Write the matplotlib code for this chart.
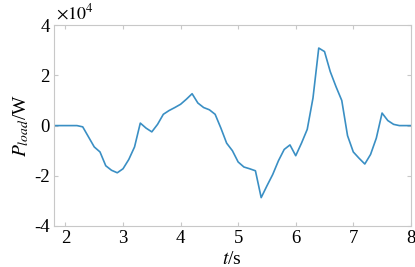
import matplotlib.pyplot as plt

# load power curve, values in units of 10^4 W
t = [1.8, 1.9, 2.0, 2.1, 2.2, 2.3, 2.4, 2.5, 2.6, 2.7, 2.8, 2.9,
     3.0, 3.1, 3.2, 3.3, 3.4, 3.5, 3.6, 3.7, 3.8, 3.9,
     4.0, 4.1, 4.2, 4.3, 4.4, 4.5, 4.6, 4.7, 4.8, 4.9,
     5.0, 5.1, 5.2, 5.3, 5.4, 5.5, 5.6, 5.7, 5.8, 5.9,
     6.0, 6.1, 6.2, 6.3, 6.4, 6.5, 6.6, 6.7, 6.8, 6.9,
     7.0, 7.1, 7.2, 7.3, 7.4, 7.5, 7.6, 7.7, 7.8, 7.9, 8.0]
p_load = [0, 0, 0, 0, 0, -0.05, -0.45, -0.85, -1.05, -1.6, -1.78, -1.88,
          -1.72, -1.35, -0.85, 0.1, -0.1, -0.25, 0.05, 0.45, 0.6, 0.72,
          0.85, 1.05, 1.27, 0.9, 0.72, 0.63, 0.45, -0.1, -0.7, -1.0,
          -1.45, -1.65, -1.72, -1.8, -2.87, -2.4, -1.95, -1.4, -0.95, -0.77,
          -1.2, -0.7, -0.15, 1.1, 3.09, 2.95, 2.15, 1.55, 1.0, -0.4,
          -1.05, -1.3, -1.53, -1.15, -0.5, 0.5, 0.2, 0.05, 0.0, 0.0, 0.0]

plt.rcParams['font.family'] = 'Liberation Serif'
plt.rcParams['mathtext.fontset'] = 'stix'

fig = plt.figure(figsize=(4.15, 2.67), dpi=100)
ax = fig.add_axes([0.130, 0.1536, 0.860, 0.752])
ax.plot(t, p_load, color='#3a8fc4', lw=1.2)

ax.set_xlim(1.8, 8)
ax.set_ylim(-4, 4)
ax.set_xticks([2, 3, 4, 5, 6, 7, 8])
ax.set_yticks([-4, -2, 0, 2, 4])
ax.set_yticklabels(['-4', '-2', '0', '2', '4'])

for s in ax.spines.values():
    s.set_color('#c8c8c8')
    s.set_linewidth(0.8)
ax.tick_params(direction='in', top=True, right=True, color='#c8c8c8',
               length=3, labelsize=13.5, pad=3)

ax.set_xlabel(r'$t$/s', fontsize=14, labelpad=3)
ax.set_ylabel(r'$P_{load}$/W', fontsize=14, labelpad=2)
ax.text(0.005, 1.01, r'$\times10^4$', transform=ax.transAxes, fontsize=13,
        ha='left', va='bottom')

plt.savefig('out.png', dpi=100)
